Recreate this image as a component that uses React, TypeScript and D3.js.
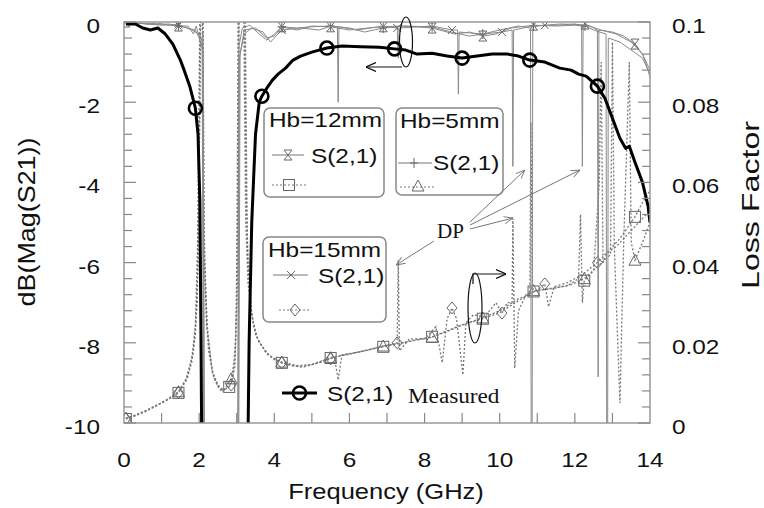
import React from "react";
import * as d3 from "d3";

type P = [number, number];

const WIDTH = 764;
const HEIGHT = 508;
const PLOT = { left: 124, right: 650, top: 22, bottom: 423 };
const SANS = "'Liberation Sans', Arial, sans-serif";
const SERIF = "'Liberation Serif', 'Times New Roman', serif";

const xTicks = [0, 2, 4, 6, 8, 10, 12, 14];
const dbTicks = [0, -2, -4, -6, -8, -10];
const lossTicks = [0.1, 0.08, 0.06, 0.04, 0.02, 0];
const lossTickLabels = ["0.1", "0.08", "0.06", "0.04", "0.02", "0"];

// measured S21 (dB), left axis
const measured: P[] = [
  [0.05, -0.05], [0.3, -0.05], [0.5, -0.15], [0.7, -0.2], [0.9, -0.15], [1.1, -0.3],
  [1.3, -0.55], [1.5, -0.95], [1.6, -1.2], [1.75, -1.6], [1.9, -2.15], [1.97, -2.8],
  [2.02, -4.5], [2.05, -8], [2.08, -12], [3.28, -12], [3.33, -8], [3.4, -5], [3.5, -2.8],
  [3.6, -2.0], [3.67, -1.85], [3.8, -1.65], [3.95, -1.45], [4.1, -1.3], [4.3, -1.15],
  [4.5, -0.95], [4.7, -0.85], [5.0, -0.75], [5.4, -0.65], [5.8, -0.6], [6.3, -0.62],
  [6.8, -0.63], [7.2, -0.67], [7.5, -0.7], [7.8, -0.8], [8.2, -0.78], [8.6, -0.85],
  [9.0, -0.9], [9.4, -0.85], [9.8, -0.8], [10.2, -0.8], [10.5, -0.85], [10.8, -0.95],
  [11.2, -1.0], [11.6, -1.15], [11.9, -1.2], [12.1, -1.3], [12.3, -1.35], [12.6, -1.6],
  [12.8, -1.9], [13.0, -2.4], [13.2, -2.9], [13.35, -3.15], [13.45, -3.1], [13.6, -3.5],
  [13.8, -4.0], [13.95, -4.6], [14.0, -5.0],
];
const measuredMarks = [1.9, 3.67, 5.4, 7.2, 9.0, 10.8, 12.6];

// simulated S21 (dB), left axis
const s21Hb12: P[] = [
  [0.05, 0], [0.3, -0.02], [0.6, -0.05], [0.9, -0.03], [1.2, -0.08], [1.45, -0.1],
  [1.7, -0.1], [1.85, -0.3], [1.92, -0.1], [2.0, -0.35], [2.06, -0.6], [2.1, -0.25],
  [2.15, -12], [3.02, -12], [3.06, -0.6], [3.15, -0.15], [3.35, -0.08], [3.6, -0.3],
  [3.8, -0.45], [4.0, -0.3], [4.2, -0.12], [4.6, -0.2], [5.0, -0.1], [5.5, -0.12],
  [6.0, -0.2], [6.5, -0.15], [6.9, -0.12], [7.4, -0.1], [7.8, -0.12], [8.2, -0.15],
  [8.8, -0.3], [9.2, -0.25], [9.55, -0.35], [9.9, -0.3], [10.3, -0.15], [10.9, -0.08],
  [11.5, -0.1], [12.0, -0.08], [12.18, -0.1], [12.2, -3.6], [12.22, -0.1], [12.27, -0.05],
  [12.45, -0.12], [12.6, -0.2], [12.62, -8.85], [12.64, -0.2], [13.0, -0.25], [13.3, -0.35],
  [13.6, -0.55], [13.8, -0.8], [13.95, -1.2], [14, -1.4],
];
const s21Hb12Marks = [0.05, 1.45, 4.2, 5.5, 6.9, 8.2, 9.55, 10.9, 12.27, 13.6];

const s21Hb5: P[] = [
  [0.05, 0], [0.4, -0.03], [0.8, -0.06], [1.2, -0.05], [1.45, -0.1], [1.7, -0.15],
  [1.9, -0.2], [2.0, -0.4], [2.08, -0.7], [2.12, -12], [3.05, -12], [3.09, -0.8],
  [3.2, -0.2], [3.5, -0.15], [3.8, -0.4], [4.0, -0.35], [4.2, -0.12], [4.6, -0.15],
  [5.0, -0.12], [5.5, -0.1], [6.0, -0.15], [6.4, -0.25], [6.9, -0.15], [7.4, -0.1],
  [8.2, -0.12], [8.7, -0.25], [9.2, -0.35], [9.55, -0.3], [10.0, -0.2], [10.5, -0.1],
  [10.82, -0.15], [10.84, -12], [10.86, -12], [10.88, -0.2], [10.9, -0.1], [11.5, -0.08],
  [12.0, -0.05], [12.27, -0.1], [12.5, -0.2], [12.83, -0.3], [12.85, -12], [12.87, -12],
  [12.89, -0.4], [13.2, -0.5], [13.5, -0.7], [13.8, -0.9], [14, -1.3],
];
const s21Hb5Marks = [1.45, 4.2, 5.5, 6.9, 8.2, 9.55, 10.9, 12.27];

const s21Hb15: P[] = [
  [0.05, -0.02], [0.5, -0.04], [1.0, -0.08], [1.45, -0.06], [1.8, -0.2], [2.0, -0.3],
  [2.1, -0.5], [2.13, -12], [3.03, -12], [3.07, -0.9], [3.2, -0.3], [3.4, -0.15],
  [3.7, -0.25], [3.9, -0.5], [4.2, -0.2], [4.7, -0.15], [5.2, -0.2], [5.5, -0.1],
  [5.68, -0.12], [5.7, -2.0], [5.72, -0.12], [6.2, -0.2], [6.9, -0.1], [7.27, -0.15],
  [7.3, -0.9], [7.32, -0.15], [8.2, -0.1], [8.73, -0.2], [8.88, -0.2], [8.9, -1.8],
  [8.92, -0.25], [9.55, -0.3], [10.06, -0.25], [10.33, -0.2], [10.35, -3.6], [10.37, -0.2],
  [10.9, -0.1], [11.2, -0.08], [11.6, -0.05], [12.27, -0.07], [12.7, -0.2], [13.1, -0.3],
  [13.5, -0.5], [13.8, -0.8], [14, -1.2],
];
const s21Hb15Marks = [1.45, 4.2, 7.27, 8.73, 10.06, 11.2];

// loss factor, right axis
const lossHb12: P[] = [
  [0.05, 0.001], [0.3, 0.0018], [0.6, 0.003], [0.9, 0.0045], [1.2, 0.006], [1.45, 0.0075],
  [1.65, 0.0105], [1.8, 0.015], [1.9, 0.022], [1.97, 0.04], [2.02, 0.08], [2.05, 0.11],
  [2.1, 0.11], [2.13, 0.05], [2.2, 0.025], [2.35, 0.013], [2.5, 0.0095], [2.65, 0.0082],
  [2.8, 0.009], [2.9, 0.012], [2.97, 0.02], [3.02, 0.05], [3.06, 0.11], [3.2, 0.11],
  [3.25, 0.06], [3.3, 0.04], [3.4, 0.027], [3.55, 0.021], [3.75, 0.018], [4.0, 0.0158],
  [4.2, 0.015], [4.5, 0.0142], [4.8, 0.014], [5.1, 0.0148], [5.5, 0.0162], [5.9, 0.017],
  [6.4, 0.018], [6.9, 0.019], [7.3, 0.0198], [7.8, 0.0208], [8.2, 0.0215], [8.6, 0.023],
  [9.0, 0.0245], [9.55, 0.026], [10.0, 0.0275], [10.5, 0.0305], [10.9, 0.0328],
  [11.3, 0.0335], [11.8, 0.0342], [12.1, 0.036], [12.15, 0.052], [12.2, 0.03],
  [12.25, 0.0355], [12.5, 0.038], [12.65, 0.06], [12.7, 0.09], [12.75, 0.04], [12.9, 0.043],
  [13.2, 0.046], [13.6, 0.0514], [13.8, 0.055], [14, 0.058],
];
const lossHb12Marks = [0.05, 1.45, 2.8, 4.2, 5.5, 6.9, 8.2, 9.55, 10.9, 12.25, 13.6];

const lossHb5: P[] = [
  [0.05, 0.0012], [0.3, 0.002], [0.6, 0.0032], [0.9, 0.0046], [1.2, 0.0062], [1.45, 0.0078],
  [1.65, 0.011], [1.8, 0.016], [1.9, 0.024], [1.96, 0.045], [2.0, 0.085], [2.03, 0.11],
  [2.08, 0.11], [2.12, 0.045], [2.2, 0.024], [2.35, 0.0125], [2.5, 0.009], [2.65, 0.008],
  [2.85, 0.011], [2.95, 0.016], [3.0, 0.03], [3.04, 0.11], [3.18, 0.11], [3.24, 0.05],
  [3.3, 0.035], [3.45, 0.024], [3.6, 0.02], [3.9, 0.0165], [4.2, 0.0152], [4.6, 0.0143],
  [5.0, 0.0146], [5.5, 0.0163], [6.0, 0.0172], [6.5, 0.0182], [6.9, 0.0192], [7.4, 0.02],
  [7.8, 0.0207], [8.2, 0.0214], [8.7, 0.0232], [9.1, 0.0248], [9.55, 0.0262], [10.0, 0.028],
  [10.5, 0.031], [10.8, 0.032], [10.83, 0.075], [10.87, 0.034], [10.9, 0.033],
  [11.4, 0.0335], [11.9, 0.0345], [12.25, 0.036], [12.6, 0.039], [12.95, 0.042],
  [13.0, 0.095], [13.05, 0.044], [13.2, 0.005], [13.3, 0.045], [13.45, 0.09], [13.5, 0.045],
  [13.6, 0.0406], [13.8, 0.045], [14, 0.05],
];
const lossHb5Marks = [0.05, 1.45, 2.85, 4.2, 5.5, 6.9, 8.2, 9.55, 10.9, 12.25, 13.6];

const lossHb15: P[] = [
  [0.05, 0.0011], [0.4, 0.0022], [0.8, 0.004], [1.2, 0.006], [1.45, 0.0076], [1.7, 0.0115],
  [1.85, 0.018], [1.95, 0.03], [2.0, 0.06], [2.04, 0.11], [2.09, 0.11], [2.14, 0.04],
  [2.25, 0.018], [2.4, 0.011], [2.6, 0.0078], [2.85, 0.0095], [2.95, 0.014], [3.02, 0.035],
  [3.07, 0.11], [3.22, 0.11], [3.28, 0.045], [3.35, 0.03], [3.5, 0.022], [3.8, 0.0172],
  [4.2, 0.015], [4.7, 0.014], [5.2, 0.015], [5.5, 0.016], [5.6, 0.0165], [5.7, 0.0107],
  [5.8, 0.017], [6.3, 0.0178], [6.9, 0.0192], [7.27, 0.02], [7.3, 0.0406], [7.33, 0.018],
  [7.6, 0.021], [8.0, 0.021], [8.3, 0.024], [8.47, 0.015], [8.6, 0.026], [8.73, 0.0287],
  [8.85, 0.026], [9.02, 0.012], [9.1, 0.025], [9.3, 0.027], [9.6, 0.0265], [9.9, 0.03],
  [10.06, 0.0274], [10.2, 0.03], [10.33, 0.03], [10.35, 0.051], [10.4, 0.0137],
  [10.5, 0.028], [10.7, 0.032], [11.0, 0.033], [11.2, 0.0347], [11.3, 0.029],
  [11.45, 0.034], [11.8, 0.035], [12.2, 0.037], [12.6, 0.04], [12.8, 0.042], [13.1, 0.044],
  [13.4, 0.047], [13.7, 0.05], [14, 0.053],
];
const lossHb15Marks = [0.05, 1.45, 2.85, 4.2, 5.5, 7.27, 8.73, 10.06, 11.2, 12.6];

type Kind = "circle" | "square" | "triangle" | "diamond" | "hourglass" | "plus" | "cross";

function Mark({ kind, cx, cy }: { kind: Kind; cx: number; cy: number }) {
  const gray = { fill: "none", stroke: "#666", strokeWidth: 1 };
  switch (kind) {
    case "circle":
      return <circle cx={cx} cy={cy} r={6.5} fill="none" stroke="#000" strokeWidth={2.6} />;
    case "square":
      return <rect x={cx - 5.5} y={cy - 5.5} width={11} height={11} {...gray} />;
    case "triangle":
      return <path d={`M${cx},${cy - 6}L${cx + 6},${cy + 5}L${cx - 6},${cy + 5}Z`} {...gray} />;
    case "diamond":
      return <path d={`M${cx},${cy - 6}L${cx + 5},${cy}L${cx},${cy + 6}L${cx - 5},${cy}Z`} {...gray} />;
    case "hourglass":
      return <path d={`M${cx - 4},${cy - 5}H${cx + 4}L${cx - 4},${cy + 5}H${cx + 4}Z`} {...gray} />;
    case "plus":
      return <path d={`M${cx},${cy - 5}V${cy + 5}M${cx - 4},${cy}H${cx + 4}`} {...gray} />;
    default:
      return <path d={`M${cx - 4},${cy - 4}L${cx + 4},${cy + 4}M${cx - 4},${cy + 4}L${cx + 4},${cy - 4}`} {...gray} />;
  }
}

function Txt(props: {
  x: number; y: number; anchor?: string; size?: number; sx?: number; family?: string;
  children: React.ReactNode;
}) {
  const { x, y, anchor = "start", size = 21, sx = 1.16, family = SANS, children } = props;
  return (
    <text transform={`translate(${x},${y}) scale(${sx},1)`} textAnchor={anchor}
      fontSize={size} fontFamily={family} fill="#111">
      {children}
    </text>
  );
}

export default function App() {
  const x = d3.scaleLinear().domain([0, 14]).range([PLOT.left, PLOT.right]);
  const yDb = d3.scaleLinear().domain([-10, 0]).range([PLOT.bottom, PLOT.top]);
  const yLf = d3.scaleLinear().domain([0, 0.1]).range([PLOT.bottom, PLOT.top]);
  const dbLine = d3.line<P>().x((d) => x(d[0])).y((d) => yDb(d[1]));
  const lfLine = d3.line<P>().x((d) => x(d[0])).y((d) => yLf(d[1]));
  const pick = (s: P[], f: number[]) => s.filter((d) => f.includes(d[0]));

  const minorDb = d3.range(0, 26).map((i) => -10 + i * 0.4);
  const minorX = d3.range(1, 14);

  const simLines: [P[], number[], Kind][] = [
    [s21Hb12, s21Hb12Marks, "hourglass"],
    [s21Hb5, s21Hb5Marks, "plus"],
    [s21Hb15, s21Hb15Marks, "cross"],
  ];
  const lossLines: [P[], number[], Kind][] = [
    [lossHb12, lossHb12Marks, "square"],
    [lossHb5, lossHb5Marks, "triangle"],
    [lossHb15, lossHb15Marks, "diamond"],
  ];

  return (
    <svg width={WIDTH} height={HEIGHT} style={{ position: "absolute", left: 0, top: 0, background: "#fff" }}>
      <defs>
        <clipPath id="plot">
          <rect x={PLOT.left} y={PLOT.top} width={PLOT.right - PLOT.left} height={PLOT.bottom - PLOT.top} />
        </clipPath>
        <marker id="arrK" viewBox="0 0 10 10" refX="10" refY="5" markerWidth="10" markerHeight="10"
          orient="auto" markerUnits="userSpaceOnUse">
          <path d="M0,0.5L10,5L0,9.5" fill="none" stroke="#111" strokeWidth={1.2} />
        </marker>
        <marker id="arrG" viewBox="0 0 10 10" refX="10" refY="5" markerWidth="9" markerHeight="9"
          orient="auto" markerUnits="userSpaceOnUse">
          <path d="M0,1L10,5L0,9" fill="none" stroke="#777" strokeWidth={1} />
        </marker>
      </defs>

      <g clipPath="url(#plot)">
        {lossLines.map(([s, m, k], i) => (
          <g key={"l" + i}>
            <path d={lfLine(s) ?? ""} fill="none" stroke="#777" strokeWidth={1.3} strokeDasharray="2 2" />
            {pick(s, m).map((d, j) => <Mark key={j} kind={k} cx={x(d[0])} cy={yLf(d[1])} />)}
          </g>
        ))}
        {simLines.map(([s, m, k], i) => (
          <g key={"s" + i}>
            <path d={dbLine(s) ?? ""} fill="none" stroke="#8a8a8a" strokeWidth={1} />
            {pick(s, m).map((d, j) => <Mark key={j} kind={k} cx={x(d[0])} cy={yDb(d[1])} />)}
          </g>
        ))}
        <path d={dbLine(measured) ?? ""} fill="none" stroke="#000" strokeWidth={3} strokeLinejoin="round" />
        {pick(measured, measuredMarks).map((d, j) => (
          <Mark key={j} kind="circle" cx={x(d[0])} cy={yDb(d[1])} />
        ))}
      </g>

      {/* frame and ticks */}
      <rect x={PLOT.left} y={PLOT.top} width={PLOT.right - PLOT.left} height={PLOT.bottom - PLOT.top}
        fill="none" stroke="#999" strokeWidth={1.5} />
      {minorDb.map((v, i) => {
        const len = i % 5 === 0 ? 12 : 8;
        return (
          <g key={"t" + i} stroke="#888" strokeWidth={1.2}>
            <line x1={PLOT.left} x2={PLOT.left + len} y1={yDb(v)} y2={yDb(v)} />
            <line x1={PLOT.right} x2={PLOT.right - len} y1={yDb(v)} y2={yDb(v)} />
          </g>
        );
      })}
      {minorX.map((v) => (
        <line key={"x" + v} x1={x(v)} x2={x(v)} y1={PLOT.bottom} y2={PLOT.bottom - 10} stroke="#888" strokeWidth={1.2} />
      ))}

      {dbTicks.map((v) => (
        <Txt key={"dl" + v} x={100} y={yDb(v) + 11} anchor="end">{String(v)}</Txt>
      ))}
      {lossTicks.map((v, i) => (
        <Txt key={"lf" + i} x={672} y={yLf(v) + 11}>{lossTickLabels[i]}</Txt>
      ))}
      {xTicks.map((v) => (
        <Txt key={"xl" + v} x={x(v)} y={467} anchor="middle">{String(v)}</Txt>
      ))}
      <Txt x={386} y={499} anchor="middle" size={22}>Frequency (GHz)</Txt>
      <text transform="translate(35,222) rotate(-90)" textAnchor="middle" fontSize={24} fontFamily={SANS}
        fill="#111" textLength={169} lengthAdjust="spacingAndGlyphs">dB(Mag(S21))</text>
      <text transform="translate(759,205) rotate(-90)" textAnchor="middle" fontSize={23} fontFamily={SANS}
        fill="#111" textLength={168} lengthAdjust="spacingAndGlyphs">Loss Factor</text>

      {/* legend boxes */}
      <g>
        <rect x={264} y={108} width={120} height={89} rx={6} fill="#fff" stroke="#888" strokeWidth={1.5} />
        <Txt x={269} y={127}>Hb=12mm</Txt>
        <line x1={272} x2={304} y1={155} y2={155} stroke="#777" />
        <Mark kind="hourglass" cx={288} cy={155} />
        <Txt x={311} y={163}>S(2,1)</Txt>
        <line x1={272} x2={306} y1={185} y2={185} stroke="#777" strokeDasharray="2 2" />
        <Mark kind="square" cx={289} cy={185} />

        <rect x={396} y={108} width={107} height={87} rx={6} fill="#fff" stroke="#888" strokeWidth={1.5} />
        <Txt x={400} y={128}>Hb=5mm</Txt>
        <line x1={398} x2={432} y1={163} y2={163} stroke="#777" />
        <Mark kind="plus" cx={414} cy={163} />
        <Txt x={433} y={170}>S(2,1)</Txt>
        <line x1={400} x2={434} y1={187} y2={187} stroke="#777" strokeDasharray="2 2" />
        <Mark kind="triangle" cx={418} cy={186} />

        <rect x={263} y={237} width={123} height={85} rx={6} fill="#fff" stroke="#888" strokeWidth={1.5} />
        <Txt x={268} y={257}>Hb=15mm</Txt>
        <line x1={273} x2={308} y1={275} y2={275} stroke="#777" />
        <Mark kind="cross" cx={291} cy={275} />
        <Txt x={318} y={283}>S(2,1)</Txt>
        <line x1={279} x2={311} y1={310} y2={310} stroke="#777" strokeDasharray="2 2" />
        <Mark kind="diamond" cx={295} cy={310} />

        <line x1={282} x2={317} y1={393} y2={393} stroke="#000" strokeWidth={3} />
        <Mark kind="circle" cx={299.5} cy={393} />
        <Txt x={327} y={401}>S(2,1)</Txt>
        <Txt x={408} y={403} size={20} family={SERIF}>Measured</Txt>
      </g>

      {/* annotations */}
      <ellipse cx={406} cy={42} rx={6.5} ry={25} fill="none" stroke="#111" strokeWidth={1.2} />
      <line x1={402} x2={366} y1={67} y2={67} stroke="#111" strokeWidth={1.2} markerEnd="url(#arrK)" />
      <ellipse cx={475} cy={308} rx={7} ry={35} fill="none" stroke="#111" strokeWidth={1.2} />
      <path d="M473,284V274H506" fill="none" stroke="#111" strokeWidth={1.2} markerEnd="url(#arrK)" />

      <text x={437} y={238} fontSize={21} fontFamily={SERIF} fill="#111">DP</text>
      <g stroke="#777" strokeWidth={1} markerEnd="url(#arrG)">
        <line x1={434} y1={241} x2={396} y2={265} />
        <line x1={470} y1={222} x2={525} y2={170} />
        <line x1={470} y1={225} x2={580} y2={170} />
        <line x1={470} y1={229} x2={513} y2={218} />
      </g>
    </svg>
  );
}
